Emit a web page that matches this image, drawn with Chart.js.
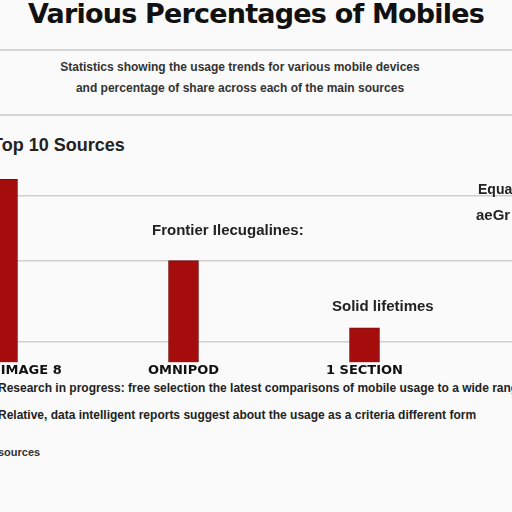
<!DOCTYPE html>
<html>
<head>
<meta charset="utf-8">
<script src="https://cdn.jsdelivr.net/npm/chart.js@4.4.1/dist/chart.umd.min.js"></script>
<style>
  body { margin: 0; width: 512px; height: 512px; overflow: hidden; background: #fafafa; font-family: "Liberation Sans", Arial, sans-serif; position: relative; }
  .t { position: absolute; white-space: nowrap; }
  .rule { position: absolute; left: 0; width: 512px; height: 2px; background: #d6d6d6; }
  #wrap { position: absolute; left: -88px; top: 159px; width: 724px; height: 219px; }
</style>
</head>
<body>
<div class="t" style="left:0;width:512px;text-align:center;top:-2px;font-size:27px;font-weight:bold;color:#111;font-family:'DejaVu Sans';letter-spacing:-0.8px">Various Percentages of Mobiles</div>
<div class="rule" style="top:49px"></div>
<div class="t" style="left:0;width:480px;text-align:center;top:60px;font-size:12px;font-weight:bold;color:#333">Statistics showing the usage trends for various mobile devices</div>
<div class="t" style="left:0;width:480px;text-align:center;top:81px;font-size:12px;font-weight:bold;color:#333">and percentage of share across each of the main sources</div>
<div class="rule" style="top:114px"></div>
<div class="t" style="left:-8px;top:135px;font-size:18px;font-weight:bold;color:#222">Top 10 Sources</div>

<div id="wrap"><canvas id="chart"></canvas></div>

<div class="t" style="left:152px;top:221px;font-size:15px;font-weight:bold;color:#222">Frontier Ilecugalines:</div>
<div class="t" style="left:332px;top:297px;font-size:15px;font-weight:bold;color:#222">Solid lifetimes</div>
<div class="t" style="left:478px;top:181px;font-size:14px;font-weight:bold;color:#222">Equals</div>
<div class="t" style="left:476px;top:206px;font-size:15px;font-weight:bold;color:#222">aeGr</div>

<div class="t" style="left:-2px;top:381px;font-size:12px;font-weight:bold;color:#222">Research in progress: free selection  the latest comparisons of mobile usage to a wide range</div>
<div class="t" style="left:-2px;top:408px;font-size:12px;font-weight:bold;color:#222">Relative, data intelligent  reports suggest about the usage as a criteria different form</div>
<div class="t" style="left:-2px;top:446px;font-size:11px;font-weight:bold;color:#333">sources</div>

<script>
// categories and values
const categories = ["DEVICE IMAGE 8", "OMNIPOD", "1 SECTION", "FAST"];
const shares = [90, 50, 17, 46];
const gridValues = [10, 50, 82];

new Chart(document.getElementById("chart"), {
  type: "bar",
  data: {
    labels: categories,
    datasets: [
      {
        data: shares,
        backgroundColor: "#a50d0d",
        borderColor: "#7a0a0a",
        borderWidth: 1,
        barThickness: 30,
      },
    ],
  },
  options: {
    responsive: true,
    maintainAspectRatio: false,
    animation: false,
    layout: { padding: 0 },
    plugins: { legend: { display: false }, tooltip: { enabled: false } },
    scales: {
      x: {
        grid: { display: false, drawTicks: false },
        border: { display: false },
        ticks: {
          padding: 0,
          color: "#111",
          font: { family: "DejaVu Sans", size: 13, weight: "bold" },
          maxRotation: 0,
          autoSkip: false,
        },
      },
      y: {
        min: 0,
        max: 100,
        display: true,
        afterBuildTicks: axis => {
          axis.ticks = gridValues.map(v => ({ value: v }));
        },
        grid: { color: "#cfcfcf", lineWidth: 1.5, drawTicks: false },
        border: { display: false },
        ticks: { display: false },
      },
    },
  },
});
</script>
</body>
</html>
